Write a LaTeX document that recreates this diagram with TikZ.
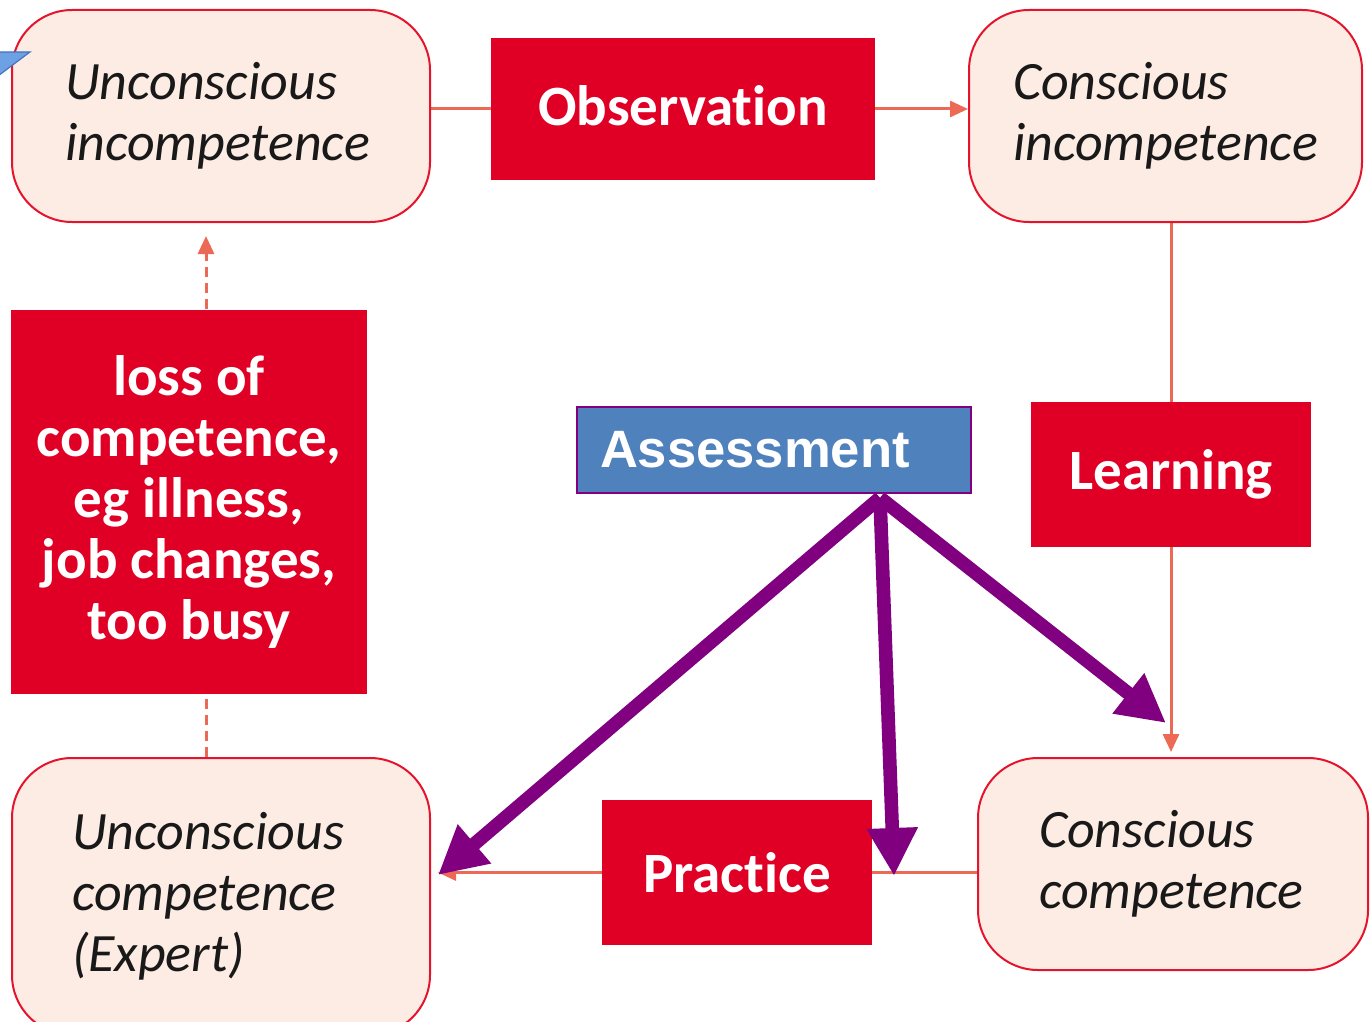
\documentclass[tikz,border=0pt]{standalone}
\usepackage{fontspec}
\setmainfont[Ligatures=NoCommon]{Carlito}
\newfontfamily\assessfont{Liberation Sans}
\usetikzlibrary{arrows.meta,backgrounds}

\definecolor{boxred}{RGB}{224,0,37}
\definecolor{edgered}{RGB}{228,20,45}
\definecolor{peach}{RGB}{253,236,228}
\definecolor{salmon}{RGB}{236,105,85}
\definecolor{assessblue}{RGB}{79,129,189}
\definecolor{deeppurple}{RGB}{128,0,128}
\definecolor{calloutblue}{RGB}{110,160,228}
\definecolor{calloutedge}{RGB}{70,115,190}

\begin{document}
\begin{tikzpicture}[x=0.5pt,y=-0.5pt,
  stage/.style={draw=edgered, line width=1pt, fill=peach, rounded corners=30pt,
    inner ysep=0pt, inner xsep=0pt, align=left, text=black!90,
    font=\itshape\fontsize{27}{30.5}\selectfont},
  redbox/.style={fill=boxred, text=white, inner sep=0pt, align=center,
    font=\bfseries\fontsize{28.5}{30.5}\selectfont},
  flow/.style={draw=salmon, line width=1.5pt, -{Triangle[length=9pt,width=8pt]}},
  assessarrow/.style={draw=deeppurple, line width=6.8pt,
    -{Triangle[length=24pt,width=24pt]}}]

\useasboundingbox (0,0) rectangle (1370,1022);
\clip (0,0) rectangle (1370,1022);

% four stages of competence
\node[stage, minimum width=209pt, minimum height=106pt, text width=156pt]
  (ui) at (221,116) {Unconscious\\incompetence};
\node[stage, minimum width=196.5pt, minimum height=106pt, text width=152.5pt]
  (ci) at (1165.5,116) {Conscious\\incompetence};
\node[stage, minimum width=209pt, minimum height=138.5pt, text width=149pt]
  (uc) at (221,896.5) {Unconscious\\competence\\(Expert)};
\node[stage, minimum width=195pt, minimum height=106pt, text width=134pt]
  (cc) at (1173,864) {Conscious\\competence};

% transitions
\node[redbox, minimum width=192pt, minimum height=71pt] (obs) at (683,109)
  {\raisebox{3pt}{Observation}};
\node[redbox, minimum width=140pt, minimum height=72.5pt] (learn) at (1171,474.5) {Learning};
\node[redbox, minimum width=135pt, minimum height=72.5pt] (prac) at (737,872.5) {Practice};
\node[redbox, minimum width=178pt, minimum height=192pt, font=\bfseries\fontsize{28.5}{30.5}\selectfont]
  (loss) at (189,502) {loss of\\competence,\\eg illness,\\job changes,\\too busy};

% assessment
\node[fill=assessblue, draw=deeppurple, line width=0.8pt, text=white, align=left,
  text width=174pt, inner xsep=11.5pt, inner ysep=0pt, minimum height=43pt,
  font=\assessfont\bfseries\fontsize{26.3}{30}\selectfont]
  (assess) at (774,450) {Assessment};

% connectors behind the boxes
\begin{pgfonlayer}{background}
  \draw[flow] (ui.east |- obs.center) -- (ci.west |- obs.center);
  \draw[flow, shorten >=2.5pt] (learn.center |- ci.south) -- (learn.center |- cc.north);
  \draw[flow, shorten >=3.5pt] (cc.west |- prac.center) -- (uc.east |- prac.center);
  \draw[flow, dash pattern=on 5pt off 3pt, shorten >=6.5pt]
    ([xshift=-7.5pt]uc.north) -- ([xshift=-7.5pt]ui.south);
\end{pgfonlayer}

% arrows fanning out of the assessment box
\coordinate (src) at ([xshift=53pt,yshift=-2pt]assess.south);
\coordinate (tipL) at (438,875);
\coordinate (tipM) at (894,876);
\coordinate (tipR) at (1166,723);
\draw[assessarrow] (src) -- (tipL);
\draw[assessarrow] (src) -- (tipM);
\draw[assessarrow] (src) -- (tipR);

% tail of a callout entering from the left edge
\fill[calloutblue, draw=calloutedge, line width=0.6pt]
  (-2,52) -- (30,52) -- (-2,76) -- cycle;

\end{tikzpicture}
\end{document}
